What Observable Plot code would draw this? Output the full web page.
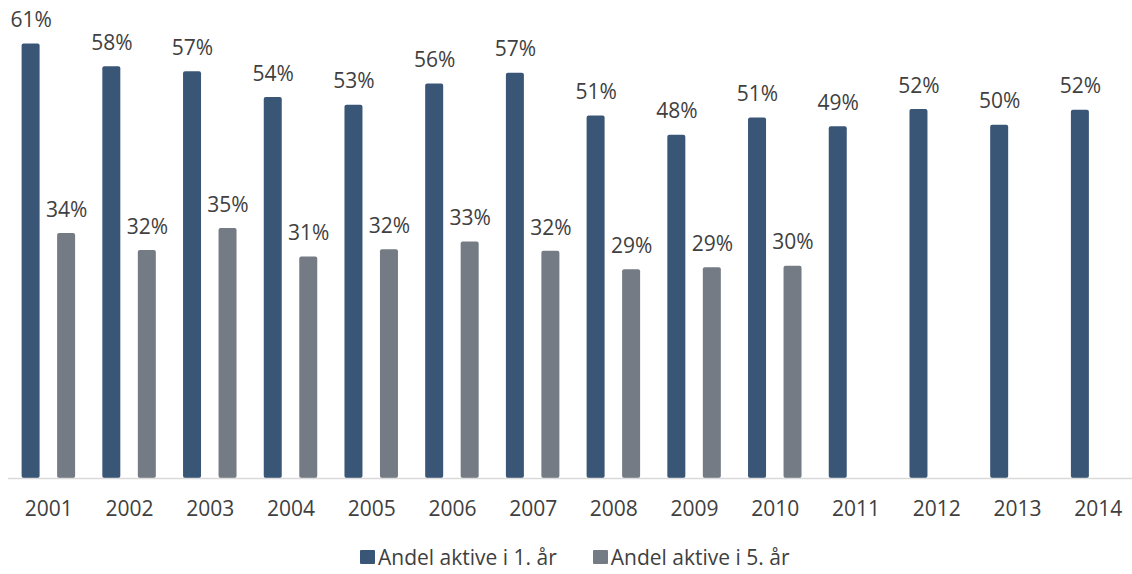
<!DOCTYPE html>
<html>
<head>
<meta charset="utf-8">
<script src="https://cdn.jsdelivr.net/npm/d3@7"></script>
<script src="https://cdn.jsdelivr.net/npm/@observablehq/plot@0.6"></script>
<style>
  html, body { margin: 0; padding: 0; background: #fff; }
  #wrap { position: relative; width: 1132px; height: 574px; font-family: "Open Sans", sans-serif; }
  #legend { position: absolute; top: 543px; left: 360px; display: flex; align-items: center; font-size: 21px; color: #404040; white-space: nowrap; }
  #legend .sw { width: 15px; height: 14px; display: inline-block; margin-right: 3px; border-radius: 1px; }
  #legend .item { display: flex; align-items: center; }
</style>
</head>
<body>
<div id="wrap"><div id="chart"></div><div id="legend"></div></div>
<script>
const years = ["2001","2002","2003","2004","2005","2006","2007","2008","2009","2010","2011","2012","2013","2014"];
const series1Name = "Andel aktive i 1. år";
const series5Name = "Andel aktive i 5. år";
const active1 = [61.0, 57.8, 57.1, 53.5, 52.4, 55.4, 56.9, 50.9, 48.2, 50.6, 49.4, 51.8, 49.6, 51.7];
const active5 = [34.4, 32.0, 35.1, 31.1, 32.1, 33.2, 31.9, 29.3, 29.6, 29.8, null, null, null, null];
const labels1 = ["61%","58%","57%","54%","53%","56%","57%","51%","48%","51%","49%","52%","50%","52%"];
const labels5 = ["34%","32%","35%","31%","32%","33%","32%","29%","29%","30%",null,null,null,null];
const colors = ["#3a5677", "#747b84"];

const d1 = years.map((y, i) => ({year: y, v: active1[i], t: labels1[i]})).filter(d => d.v != null);
const d5 = years.map((y, i) => ({year: y, v: active5[i], t: labels5[i]})).filter(d => d.v != null);

const font = "Open Sans, sans-serif";
const fs = 21;
const barW = 18, off = 17.75;
const step = (1138 - 8) / years.length;
const innerL = step / 2 - off - barW / 2;
const innerR = step - innerL - barW;

const chart = Plot.plot({
  width: 1132,
  height: 530,
  marginTop: 0, marginBottom: 52, marginLeft: 8, marginRight: -6,
  style: {fontFamily: font, color: "#404040", background: "#fff"},
  x: {domain: years, range: [8, 1138], padding: 0, round: false, label: null},
  y: {domain: [0, 61], range: [478, 43.5], axis: null},
  marks: [
    Plot.barY(d1, {x: "year", y: "v", fill: colors[0], insetLeft: innerL, insetRight: innerR, rx: 2}),
    Plot.barY(d5, {x: "year", y: "v", fill: colors[1], insetLeft: innerR, insetRight: innerL, rx: 2}),
    Plot.text(d1, {x: "year", y: "v", text: "t", dx: -off, dy: -23.5, fontSize: fs, fill: "#404040"}),
    Plot.text(d5, {x: "year", y: "v", text: "t", dx: off, dy: -23.5, fontSize: fs, fill: "#404040"}),
    Plot.ruleY([0], {stroke: "#d9d9d9", strokeWidth: 1.5}),
    Plot.axisX({tickSize: 0, tickPadding: 23, fontSize: fs, fill: "#404040", label: null})
  ]
});
document.getElementById("chart").appendChild(chart);

const legend = document.getElementById("legend");
[[series1Name, colors[0]], [series5Name, colors[1]]].forEach(([name, c], i) => {
  const it = document.createElement("span");
  it.className = "item";
  if (i > 0) it.style.marginLeft = "36px";
  it.innerHTML = `<span class="sw" style="background:${c}"></span><span>${name}</span>`;
  legend.appendChild(it);
});
</script>
</body>
</html>
